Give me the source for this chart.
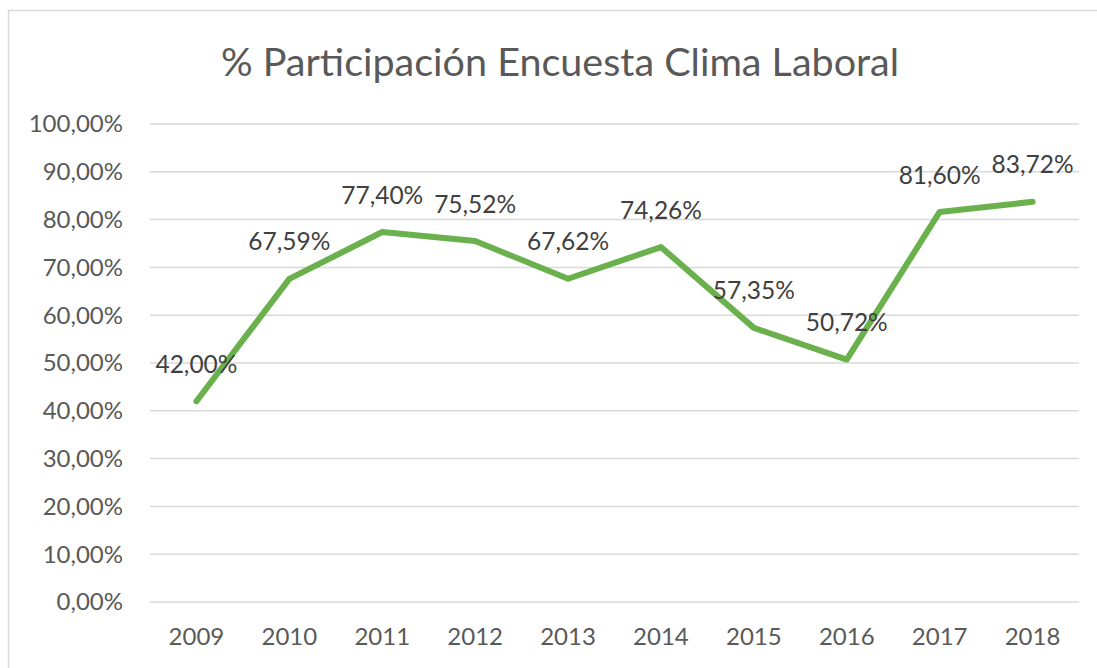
<!DOCTYPE html>
<meta charset="utf-8" />
<style>
  html,
  body {
    margin: 0;
    padding: 0;
    background: #fff;
    font-family: Lato, 'Open Sans', sans-serif;
  }
</style>
<script src="https://d3js.org/d3.v7.min.js"></script>

<div id="chart"></div>

<script>
  // data
  const years = ['2009', '2010', '2011', '2012', '2013', '2014', '2015', '2016', '2017', '2018'];
  const participation = [42.0, 67.59, 77.4, 75.52, 67.62, 74.26, 57.35, 50.72, 81.6, 83.72];
  const yTicks = [0, 10, 20, 30, 40, 50, 60, 70, 80, 90, 100];

  const W = 1097;
  const H = 668;
  const margin = { top: 124, right: 18, bottom: 66, left: 150 };

  // spanish style percent: 42,00%
  const fmt = (v) => v.toFixed(2).replace('.', ',') + '%';

  const svg = d3
    .select('#chart')
    .append('svg')
    .attr('width', W)
    .attr('height', H);

  // chart border
  svg
    .append('rect')
    .attr('x', 8.5)
    .attr('y', 10.5)
    .attr('width', W + 10)
    .attr('height', H + 10)
    .attr('fill', '#fff')
    .attr('stroke', '#d9d9d9')
    .attr('stroke-width', 1.5);

  const x = d3
    .scaleBand()
    .domain(years)
    .range([margin.left, W - margin.right]);

  const y = d3
    .scaleLinear()
    .domain([0, 100])
    .range([H - margin.bottom, margin.top]);

  // title
  svg
    .append('text')
    .attr('x', 560)
    .attr('y', 76)
    .attr('text-anchor', 'middle')
    .attr('fill', '#595959')
    .style('font-size', '39.5px')
    .text('% Participación Encuesta Clima Laboral');

  // gridlines
  svg
    .append('g')
    .selectAll('line')
    .data(yTicks)
    .join('line')
    .attr('x1', margin.left)
    .attr('x2', W - margin.right)
    .attr('y1', (d) => y(d))
    .attr('y2', (d) => y(d))
    .attr('stroke', '#d9d9d9')
    .attr('stroke-width', 1.5);

  // y axis labels
  svg
    .append('g')
    .selectAll('text')
    .data(yTicks)
    .join('text')
    .attr('x', 123)
    .attr('y', (d) => y(d))
    .attr('dy', '0.35em')
    .attr('text-anchor', 'end')
    .attr('fill', '#595959')
    .style('font-size', '24px')
    .text((d) => fmt(d));

  // x axis labels
  svg
    .append('g')
    .selectAll('text')
    .data(years)
    .join('text')
    .attr('x', (d) => x(d) + x.bandwidth() / 2)
    .attr('y', 637)
    .attr('dy', '0.35em')
    .attr('text-anchor', 'middle')
    .attr('fill', '#595959')
    .style('font-size', '24px')
    .text((d) => d);

  const points = years.map((yr, i) => ({ year: yr, value: participation[i] }));

  const line = d3
    .line()
    .x((d) => x(d.year) + x.bandwidth() / 2)
    .y((d) => y(d.value));

  svg
    .append('path')
    .datum(points)
    .attr('d', line)
    .attr('fill', 'none')
    .attr('stroke', '#6ab04c')
    .attr('stroke-width', 6)
    .attr('stroke-linejoin', 'round')
    .attr('stroke-linecap', 'round');

  // data labels above each point
  svg
    .append('g')
    .selectAll('text')
    .data(points)
    .join('text')
    .attr('x', (d) => x(d.year) + x.bandwidth() / 2)
    .attr('y', (d) => y(d.value) - 37)
    .attr('dy', '0.35em')
    .attr('text-anchor', 'middle')
    .attr('fill', '#404040')
    .style('font-size', '24.5px')
    .text((d) => fmt(d.value));
</script>
